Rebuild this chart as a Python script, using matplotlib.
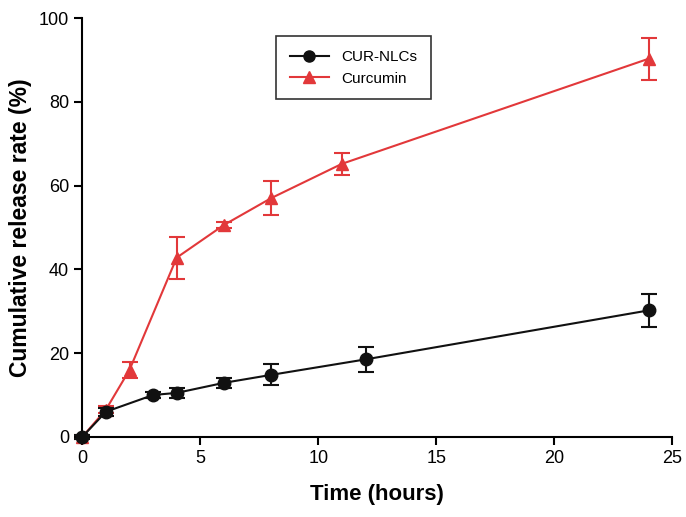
import numpy as np
import matplotlib.pyplot as plt
from matplotlib.lines import Line2D

plt.rcParams.update({
    'font.family': ['Liberation Sans', 'DejaVu Sans'],
    'font.size': 12,
})

# CUR-NLCs release profile
nlc_time = [0, 1, 3, 4, 6, 8, 12, 24]
nlc_rate = [0, 6.0, 10.0, 10.5, 12.9, 14.8, 18.5, 30.2]
nlc_err = [0.5, 1.0, 0.6, 1.2, 1.2, 2.5, 2.9, 4.0]

# Free curcumin release profile
cur_time = [0, 1, 2, 4, 6, 8, 11, 24]
cur_rate = [0, 6.5, 16.0, 42.8, 50.6, 57.0, 65.2, 90.3]
cur_err = [0.5, 0.8, 1.9, 5.0, 0.7, 4.0, 2.6, 5.0]

RED = '#e2383a'
BLACK = '#111111'

fig = plt.figure(figsize=(6.86, 5.17), dpi=100)
ax = fig.add_axes([0.12, 0.155, 0.86, 0.81])

ax.errorbar(cur_time, cur_rate, yerr=cur_err, color=RED, marker='^',
            markersize=8.5, linewidth=1.5, capsize=6, capthick=1.5,
            elinewidth=1.5, clip_on=False, zorder=2)
ax.errorbar(nlc_time, nlc_rate, yerr=nlc_err, color=BLACK, marker='o',
            markersize=9, linewidth=1.5, capsize=6, capthick=1.5,
            elinewidth=1.5, clip_on=False, zorder=3)

ax.set_xlim(0, 25)
ax.set_ylim(0, 100)
ax.set_xticks([0, 5, 10, 15, 20, 25])
ax.set_yticks([0, 20, 40, 60, 80, 100])
ax.spines['top'].set_visible(False)
ax.spines['right'].set_visible(False)
ax.spines['left'].set_linewidth(1.5)
ax.spines['bottom'].set_linewidth(1.5)
ax.tick_params(direction='out', length=6, width=1.5, labelsize=13)

ax.set_xlabel('Time (hours)', fontsize=16, fontweight='bold', labelpad=12)
ax.set_ylabel('Cumulative release rate (%)', fontsize=16.5, fontweight='bold', labelpad=5)

handles = [
    Line2D([], [], color=BLACK, marker='o', markersize=8, linewidth=1.5),
    Line2D([], [], color=RED, marker='^', markersize=8, linewidth=1.5),
]
leg = ax.legend(handles, ['CUR-NLCs', 'Curcumin'], loc='upper left',
                bbox_to_anchor=(0.315, 0.975), fontsize=11,
                frameon=True, fancybox=False, edgecolor='black',
                handlelength=2.6, borderpad=0.9, labelspacing=0.5)
leg.get_frame().set_linewidth(1.2)

fig.savefig('out.png', dpi=100)
